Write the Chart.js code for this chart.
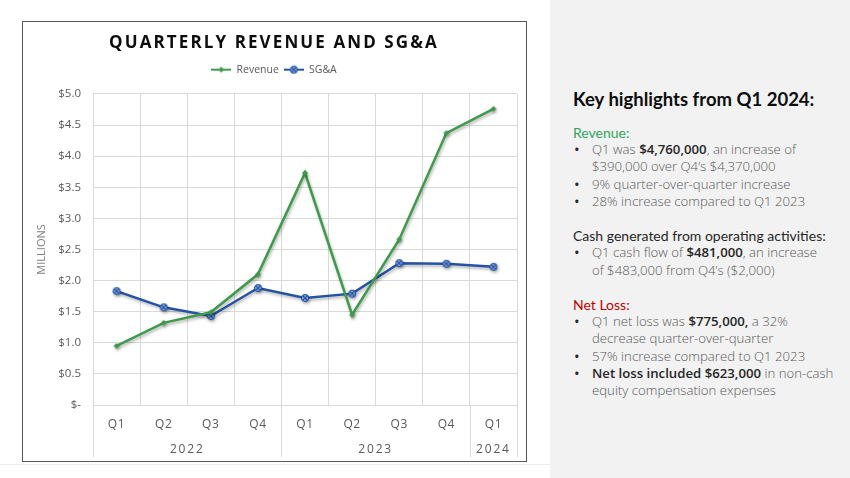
<!DOCTYPE html>
<html>
<head>
<meta charset="utf-8">
<script src="https://cdn.jsdelivr.net/npm/chart.js@4.4.1/dist/chart.umd.min.js"></script>
<style>
  body { margin: 0; width: 850px; height: 478px; background: #fff; position: relative; overflow: hidden; font-family: "Open Sans", sans-serif; }
  #chartBox { position: absolute; left: 22px; top: 21px; width: 503px; height: 439px; border: 1.5px solid #595959; background: #fff; }
  #baseLine { position: absolute; left: 0; top: 464px; width: 550px; height: 1px; background: #ececec; }
  #panel { position: absolute; left: 550px; top: 0; width: 300px; height: 478px; background: #f2f2f2; }
  #panel .hd { position: absolute; left: 23px; top: 88px; font-family: Lato, sans-serif; font-weight: 700; font-size: 18.5px; color: #0d0d0d; white-space: nowrap; }
  #panel .body { position: absolute; left: 23px; top: 124px; line-height: 17.2px; white-space: nowrap; }
  .sec { font-family: Lato, sans-serif; font-size: 14px; color: #262626; }
  .green { color: #2fa35f; }
  .red { color: #c00000; }
  .gap { height: 17.2px; }
  .li { position: relative; padding-left: 19px; font-size: 13.2px; font-weight: 300; color: #595959; }
  .li::before { content: "\2022"; position: absolute; left: 1px; top: 0; font-size: 15px; font-weight: 400; color: #262626; }
  .li b { font-weight: 600; color: #262626; }
</style>
</head>
<body>
<div id="chartBox"><canvas id="chart"></canvas></div>
<div id="baseLine"></div>
<div id="panel">
  <div class="hd">Key highlights from Q1 2024:</div>
  <div class="body">
    <div class="sec green">Revenue:</div>
    <div class="li">Q1 was <b>$4,760,000</b>, an increase of<br>$390,000 over Q4’s $4,370,000</div>
    <div class="li">9% quarter-over-quarter increase</div>
    <div class="li">28% increase compared to Q1 2023</div>
    <div class="gap"></div>
    <div class="sec">Cash generated from operating activities:</div>
    <div class="li">Q1 cash flow of <b>$481,000</b>, an increase<br>of $483,000 from Q4’s ($2,000)</div>
    <div class="gap"></div>
    <div class="sec red">Net Loss:</div>
    <div class="li">Q1 net loss was <b>$775,000,</b> a 32%<br>decrease quarter-over-quarter</div>
    <div class="li">57% increase compared to Q1 2023</div>
    <div class="li"><b>Net loss included $623,000</b> in non-cash<br>equity compensation expenses</div>
  </div>
</div>
<script>
const quarters = ['Q1', 'Q2', 'Q3', 'Q4', 'Q1', 'Q2', 'Q3', 'Q4', 'Q1'];
const years = ['2022', '2023', '2024'];
const yearSpans = [4, 4, 1];
const revenue = [0.95, 1.32, 1.49, 2.10, 3.73, 1.45, 2.66, 4.37, 4.76];
const sga = [1.83, 1.57, 1.43, 1.88, 1.72, 1.79, 2.28, 2.27, 2.22];

const GREEN = '#3f9a4b';
const BLUE = '#2553a3';
const GRID = '#d9d9d9';
const TEXT = '#595959';

// year group centres and boundaries on the quarter index scale
const yearCenters = [];
const yearBounds = [-0.5];
let start = 0;
yearSpans.forEach(span => {
  yearCenters.push(start + (span - 1) / 2);
  start += span;
  yearBounds.push(start - 0.5);
});

function drawMarker(ctx, type, cx, cy) {
  if (type === 'diamond') {
    ctx.fillStyle = GREEN;
    ctx.beginPath();
    ctx.moveTo(cx, cy - 3); ctx.lineTo(cx + 3, cy); ctx.lineTo(cx, cy + 3); ctx.lineTo(cx - 3, cy);
    ctx.closePath(); ctx.fill();
  } else {
    ctx.fillStyle = '#9dbde8';
    ctx.strokeStyle = BLUE;
    ctx.lineWidth = 1.3;
    ctx.beginPath(); ctx.arc(cx, cy, 3.3, 0, Math.PI * 2); ctx.fill(); ctx.stroke();
    ctx.beginPath();
    ctx.moveTo(cx - 2, cy - 2); ctx.lineTo(cx + 2, cy + 2);
    ctx.moveTo(cx + 2, cy - 2); ctx.lineTo(cx - 2, cy + 2);
    ctx.stroke();
  }
}

function makePoint(type) {
  const c = document.createElement('canvas');
  c.width = 10; c.height = 10;
  drawMarker(c.getContext('2d'), type, 5, 5);
  return c;
}

function makeLegendIcon(type, color) {
  const c = document.createElement('canvas');
  c.width = 20; c.height = 10;
  const ctx = c.getContext('2d');
  ctx.strokeStyle = color; ctx.lineWidth = 2;
  ctx.beginPath(); ctx.moveTo(0, 5); ctx.lineTo(20, 5); ctx.stroke();
  drawMarker(ctx, type, 10, 5);
  return c;
}

const revPoint = makePoint('diamond');
const sgaPoint = makePoint('circleX');
const legendIcons = [makeLegendIcon('diamond', GREEN), makeLegendIcon('circleX', BLUE)];

function withSpacing(obj, method, px) {
  if (!obj || obj['_sp_' + method]) return;
  const orig = obj[method];
  obj[method] = function (...args) {
    const ctx = this.ctx;
    const prev = ctx.letterSpacing;
    ctx.letterSpacing = px;
    orig.apply(this, args);
    ctx.letterSpacing = prev || '0px';
  };
  obj['_sp_' + method] = true;
}

const tweaks = {
  id: 'tweaks',
  beforeLayout(chart) {
    const lg = chart.legend;
    if (lg && !lg._padded) {
      const fit = lg.fit;
      lg.fit = function () { fit.call(this); this.height += 9; };
      lg._padded = true;
    }
  },
  beforeDraw(chart) {
    withSpacing(chart.titleBlock, 'draw', '2.1px');
    withSpacing(chart.scales.x2, 'drawLabels', '1.8px');
    withSpacing(chart.scales.x, 'drawLabels', '0.6px');
  },
  beforeDatasetsDraw(chart) {
    const ctx = chart.ctx;
    ctx.save();
    ctx.shadowColor = 'rgba(0,0,0,0.3)';
    ctx.shadowBlur = 3;
    ctx.shadowOffsetX = 1;
    ctx.shadowOffsetY = 2;
  },
  afterDatasetsDraw(chart) {
    chart.ctx.restore();
  },
  afterDraw(chart) {
    // separators of the year level on the category axis
    const x2 = chart.scales.x2;
    const ctx = chart.ctx;
    ctx.save();
    ctx.strokeStyle = GRID;
    ctx.lineWidth = 1;
    yearBounds.forEach(b => {
      const px = Math.round(x2.getPixelForValue(b)) + 0.5;
      ctx.beginPath();
      ctx.moveTo(px, chart.chartArea.bottom);
      ctx.lineTo(px, x2.bottom);
      ctx.stroke();
    });
    ctx.restore();
  }
};

new Chart(document.getElementById('chart'), {
  type: 'line',
  data: {
    labels: quarters,
    datasets: [
      {
        label: 'Revenue',
        data: revenue,
        borderColor: GREEN,
        backgroundColor: GREEN,
        borderWidth: 2.5,
        pointStyle: revPoint,
        tension: 0
      },
      {
        label: 'SG&A',
        data: sga,
        borderColor: BLUE,
        backgroundColor: BLUE,
        borderWidth: 2.5,
        pointStyle: sgaPoint,
        tension: 0
      }
    ]
  },
  options: {
    responsive: true,
    maintainAspectRatio: false,
    animation: false,
    layout: { padding: { left: 8, right: 9, top: 0, bottom: 4 } },
    plugins: {
      title: {
        display: true,
        text: 'QUARTERLY REVENUE AND SG&A',
        color: '#0d0d0d',
        font: { family: 'Open Sans', size: 17, weight: 'bold', lineHeight: 1.2 },
        padding: { top: 11, bottom: 6 }
      },
      legend: {
        position: 'top',
        labels: {
          usePointStyle: true,
          pointStyleWidth: 20,
          padding: 5,
          color: TEXT,
          font: { family: 'Open Sans', size: 10.5 },
          generateLabels(chart) {
            return chart.data.datasets.map((ds, i) => ({
              text: ds.label,
              pointStyle: legendIcons[i],
              fontColor: TEXT,
              strokeStyle: ds.borderColor,
              fillStyle: ds.backgroundColor,
              lineWidth: 0,
              datasetIndex: i
            }));
          }
        }
      },
      tooltip: { enabled: false }
    },
    scales: {
      x: {
        type: 'category',
        offset: true,
        grid: { offset: true, color: GRID, drawTicks: false },
        border: { color: GRID },
        afterFit(scale) { scale.height = 25; },
        ticks: { color: TEXT, padding: 12, font: { family: 'Open Sans', size: 12 }, maxRotation: 0 }
      },
      x2: {
        type: 'linear',
        position: 'bottom',
        min: -0.5,
        max: 8.5,
        grid: { display: false, drawTicks: false },
        border: { display: false },
        afterBuildTicks(scale) {
          scale.ticks = yearCenters.map(v => ({ value: v }));
        },
        afterFit(scale) { scale.height = 27; },
        ticks: {
          autoSkip: false,
          maxRotation: 0,
          color: TEXT,
          padding: 12,
          font: { family: 'Open Sans', size: 12 },
          callback: (v, i) => years[i]
        }
      },
      y: {
        min: 0,
        max: 5,
        grid: { color: GRID, drawTicks: false },
        border: { display: false },
        afterFit(scale) { scale.width = 62; },
        ticks: {
          stepSize: 0.5,
          padding: 12,
          color: TEXT,
          font: { family: 'Open Sans', size: 11.5 },
          callback: v => v === 0 ? '$-' : '$' + v.toFixed(1)
        },
        title: {
          display: true,
          text: 'MILLIONS',
          color: '#7f7f7f',
          font: { family: 'Open Sans', size: 11 },
          padding: { top: 4, bottom: 4 }
        }
      }
    }
  },
  plugins: [tweaks]
});
</script>
</body>
</html>
